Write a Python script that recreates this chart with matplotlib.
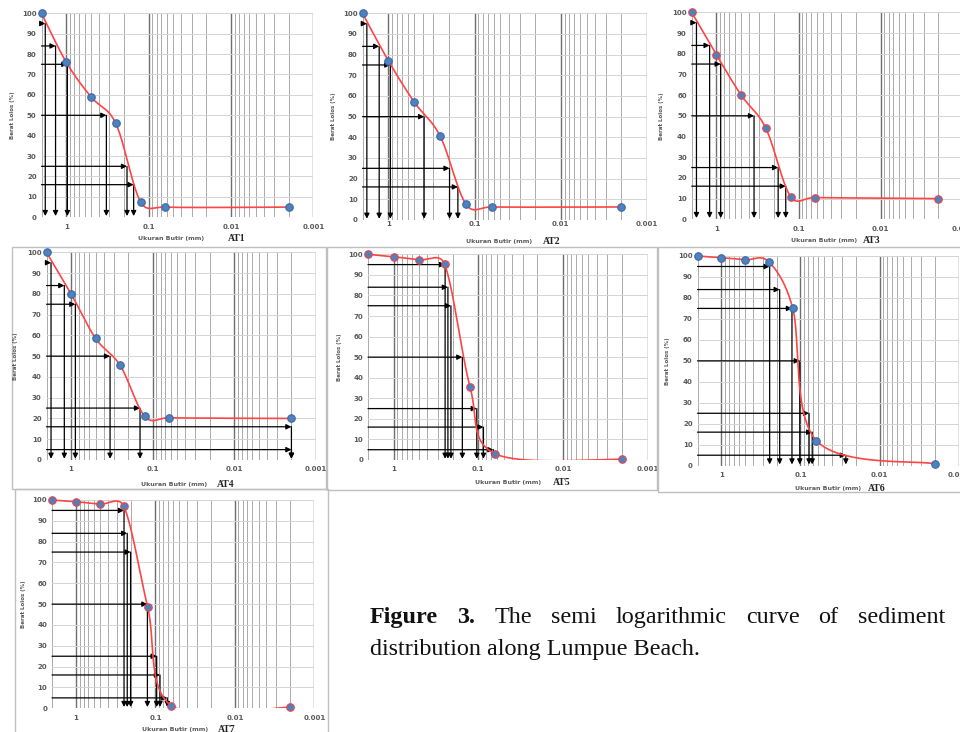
"""
Semi-logarithmic grain size curves, Lumpue Beach (AT1..AT7).
Excel-style smoothed passing curves with D-percentile arrows.
"""
import numpy as np
import matplotlib
matplotlib.use('Agg')
import matplotlib.pyplot as plt
from matplotlib.ticker import FixedLocator, FixedFormatter, LogLocator, NullFormatter
from matplotlib.patches import Rectangle

W, H = 960, 732

# ── Data ──────────────────────────────────────────────────────────────────────

sieve_mm = [2, 1, 0.5, 0.25, 0.125, 0.063, 0.002]

at1_pass = [100, 76, 59, 46, 7.5, 5, 5]
at2_pass = [100, 77, 57, 40.5, 7.5, 6.3, 6.3]
at3_pass = [100, 79.5, 60, 44, 11, 10.5, 10]
at4_pass = [100, 80, 58.5, 45.5, 21, 20.3, 20]
at5_pass = [100, 98.8, 97.3, 95.3, 35.5, 3, 0.3]
at6_pass = [100, 99.2, 98.2, 97.2, 75, 12, 0.9]
at7_pass = [100, 99.2, 98, 97, 48.5, 1.3, 0.5]

pct_levels = [95, 84, 75, 50, 25, 16, 5]

at1_d = [1.80, 1.35, 0.97, 0.326, 0.183, 0.152]
at2_d = [1.78, 1.28, 0.95, 0.385, 0.195, 0.156]
at3_d = [1.75, 1.21, 0.887, 0.348, 0.177, 0.143]
at4_d = [1.76, 1.21, 0.886, 0.333, 0.143, 0.002, 0.002]
at5_d = [0.246, 0.228, 0.21, 0.154, 0.104, 0.0868, 0.0662]
at6_d = [0.245, 0.183, 0.128, 0.102, 0.0778, 0.071, 0.0267]
at7_d = [0.248, 0.226, 0.205, 0.126, 0.0963, 0.0875, 0.0708]

yticks = list(range(0, 101, 10))
xticks = [1, 0.1, 0.01, 0.001]
xtick_labels = ['1', '0.1', '0.01', '0.001']

station_names = ['AT1', 'AT2', 'AT3', 'AT4', 'AT5', 'AT6', 'AT7']
station_pass = [at1_pass, at2_pass, at3_pass, at4_pass, at5_pass, at6_pass, at7_pass]
station_d = [at1_d, at2_d, at3_d, at4_d, at5_d, at6_d, at7_d]

# ── Layout (pixels) ───────────────────────────────────────────────────────────
# plot box: x=2mm edge, x=0.001 edge, y=100 edge, y=0 edge
BOX = [
    (41.5, 313.3, 13.3, 217.3),
    (362.5, 646.7, 13.3, 220.0),
    (691.7, 962.7, 12.3, 219.3),
    (46.5, 316.0, 252.3, 460.0),
    (368.0, 647.7, 254.3, 460.0),
    (697.5, 958.7, 256.0, 465.7),
    (52.0, 314.3, 500.0, 708.3),
]
# xlabel centre, "ATn" left edge, label y, ylabel x, x tick pad (pt)
LABELS = [
    (171.5, 228, 238.5, 13, 4.5),
    (499.0, 543, 241.5, 334, 0.8),
    (824.0, 863, 240.5, 662, 4.5),
    (174.5, 217, 484.5, 16, 4.5),
    (508.5, 553, 482.5, 339, 4.5),
    (828.5, 868, 488.5, 668, 4.5),
    (175.0, 218, 730.0, 24, 5.0),
]
FRAMES = [None, None, None,
          (12, 247, 326, 489), (327, 247, 657, 490),
          (658, 247, 961, 492), (15, 489, 328, 733)]
RED_EDGE = [False, False, True, False, True, False, True]

GRAY_TXT = '#595959'


def fx(px):
    return px / W


def fy(py):
    return 1 - py / H


def excel_smooth(ax, xs, ys, n=40):
    """Bezier smoothing like Excel's 'smoothed line', done in pixel space."""
    pts = ax.transData.transform(np.column_stack([xs, ys]))
    m = len(pts)
    out = []
    t = np.linspace(0, 1, n)[:, None]
    for i in range(m - 1):
        p0 = pts[i - 1] if i > 0 else pts[i]
        p1, p2 = pts[i], pts[i + 1]
        p3 = pts[i + 2] if i + 2 < m else pts[i + 1]
        d12 = np.hypot(*(p2 - p1))
        v1 = (p2 - p0) / 6.0
        v2 = (p3 - p1) / 6.0
        for v in (v1, v2):
            L = np.hypot(*v)
            if L > d12 / 2 and L > 0:
                v *= (d12 / 2) / L
        c1, c2 = p1 + v1, p2 - v2
        seg = (1 - t) ** 3 * p1 + 3 * (1 - t) ** 2 * t * c1 + 3 * (1 - t) * t ** 2 * c2 + t ** 3 * p2
        out.append(seg if i == 0 else seg[1:])
    return ax.transData.inverted().transform(np.vstack(out))


fig = plt.figure(figsize=(W / 100, H / 100), dpi=100)
fig.patch.set_facecolor('white')

for k in range(7):
    left, right, top, bottom = BOX[k]
    ax = fig.add_axes([fx(left), fy(bottom), (right - left) / W, (bottom - top) / H])
    ax.set_xscale('log')
    ax.set_xlim(2, 0.001)
    ax.set_ylim(0, 100)
    for s in ax.spines.values():
        s.set_visible(False)

    # grid
    ax.set_yticks(yticks)
    ax.xaxis.set_major_locator(FixedLocator(xticks))
    ax.xaxis.set_major_formatter(FixedFormatter(xtick_labels))
    ax.xaxis.set_minor_locator(LogLocator(base=10, subs=np.arange(2, 10), numticks=20))
    ax.xaxis.set_minor_formatter(NullFormatter())
    ax.grid(axis='y', color='#d4d4d4', lw=0.7, zorder=0)
    ax.grid(axis='x', which='major', color='#6e6e6e', lw=1.0, zorder=0)
    ax.grid(axis='x', which='minor', color='#9c9c9c', lw=0.6, zorder=0)
    ax.set_axisbelow(True)
    ax.tick_params(axis='both', which='both', length=0, labelsize=5, labelcolor=GRAY_TXT)
    ax.tick_params(axis='y', pad=3.5)
    ax.tick_params(axis='x', pad=LABELS[k][4])
    for lab in ax.get_xticklabels() + ax.get_yticklabels():
        lab.set_fontweight('bold')

    # D-percentile arrows
    ds = station_d[k]
    arr = dict(arrowstyle='-|>,head_length=0.3,head_width=0.15', color='k',
               lw=0.9, shrinkA=0, shrinkB=0)
    for lvl, d in zip(pct_levels[:len(ds)], ds):
        ax.annotate('', xy=(d, lvl), xytext=(2, lvl), arrowprops=arr, zorder=2)
        ax.annotate('', xy=(d, 0.6), xytext=(d, lvl), arrowprops=arr, zorder=2)

    # smoothed passing curve + sieve points
    yv = station_pass[k]
    cur = excel_smooth(ax, sieve_mm, yv)
    line, = ax.plot(cur[:, 0], cur[:, 1], color='#ff4444', lw=1.2, zorder=3)
    line.set_clip_path(Rectangle((0, 0), 1.02, 1.05, transform=ax.transAxes))
    ec = '#e8434a' if RED_EDGE[k] else '#3a68a8'
    ax.plot(sieve_mm, yv, ls='none', marker='o', ms=5.4, mfc='#4f81bd',
            mec=ec, mew=0.8, zorder=4, clip_on=False)

    # labels
    xc, atx, ly, ylx, _ = LABELS[k]
    fig.text(fx(xc), fy(ly), 'Ukuran Butir (mm)', ha='center', va='center',
             fontsize=4.5, fontweight='bold', color=GRAY_TXT)
    fig.text(fx(atx), fy(ly), station_names[k], ha='left', va='center',
             fontsize=7, fontweight='bold', family='Liberation Serif', color='#222222')
    fig.text(fx(ylx), fy((top + bottom) / 2), 'Berat Lolos (%)', ha='center', va='center',
             rotation=90, fontsize=4, fontweight='bold', color=GRAY_TXT)

    if FRAMES[k] is not None:
        x0, y0, x1, y1 = FRAMES[k]
        fig.add_artist(Rectangle((fx(x0), fy(y1)), (x1 - x0) / W, (y1 - y0) / H,
                                 transform=fig.transFigure, fill=False,
                                 ec='#bfbfbf', lw=1.0))

# ── Caption (justified first line) ───────────────────────────────────────────
SERIF = 'Liberation Serif'
r = fig.canvas.get_renderer()
probe = fig.text(0, 0, 'distribution along Lumpue Beach.', fontsize=12, family=SERIF)
fs = 12 * 330 / probe.get_window_extent(r).width
probe.remove()

words = [('Figure', 'bold'), ('3.', 'bold'), ('The', 'normal'), ('semi', 'normal'),
         ('logarithmic', 'normal'), ('curve', 'normal'), ('of', 'normal'),
         ('sediment', 'normal')]
x_start, x_end, base1, base2 = 370, 945, 623, 655
objs = [fig.text(0, fy(base1), w, fontsize=fs, fontweight=wt, family=SERIF,
                 va='baseline', ha='left', color='#111111') for w, wt in words]
widths = [o.get_window_extent(r).width for o in objs]
gap = (x_end - x_start - sum(widths)) / (len(words) - 1)
xpos = x_start
for o, wd in zip(objs, widths):
    o.set_x(fx(xpos))
    xpos += wd + gap
fig.text(fx(x_start), fy(base2), 'distribution along Lumpue Beach.', fontsize=fs,
         family=SERIF, va='baseline', ha='left', color='#111111')

fig.savefig('out.png', dpi=100)
